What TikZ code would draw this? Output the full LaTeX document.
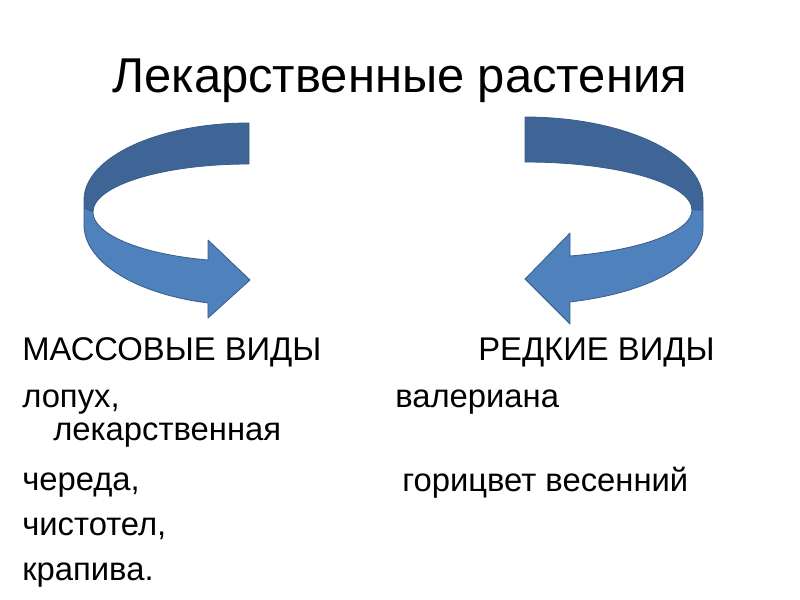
\documentclass[tikz,border=0pt]{standalone}
\usepackage{fontspec}
\setmainfont{Liberation Sans}
\usetikzlibrary{positioning}
\definecolor{RibbonDark}{RGB}{63,101,151}
\definecolor{RibbonLight}{RGB}{79,129,189}
\definecolor{RibbonEdge}{RGB}{56,93,138}

\begin{document}
\begin{tikzpicture}[x=0.75pt, y=-0.75pt,
    every node/.style={inner sep=0pt, anchor=base west},
    title/.style={font=\fontsize{36.7}{44}\selectfont},
    item/.style={font=\fontsize{24.6}{29}\selectfont},
    ribbon/.style={draw=RibbonEdge, line width=0.6pt, line join=round}]
  \useasboundingbox (0,0) rectangle (800,600);

  \node[title] (title) at (112,92) {Лекарственные растения};

  \filldraw[ribbon, fill=RibbonDark] (249,123) arc[start angle=-90, end angle=-180, x radius=165, y radius=77]
    -- (84,208) -- (93,212) arc[start angle=180, end angle=270, x radius=156, y radius=48] -- cycle;
  \filldraw[ribbon, fill=RibbonLight] (84,208) -- (84,225)
    arc[start angle=180, end angle=104.4, x radius=165, y radius=80.5]
    -- (208,318) -- (250,280) -- (208,240) -- (208,260)
    arc[start angle=105.2, end angle=180, x radius=156, y radius=50] -- cycle;

  \filldraw[ribbon, fill=RibbonDark] (525,117) arc[start angle=-90, end angle=0, x radius=178, y radius=83]
    -- (703,210) -- (692,210) arc[start angle=0, end angle=-90, x radius=167, y radius=48] -- cycle;
  \filldraw[ribbon, fill=RibbonLight] (703,210) -- (703,228)
    arc[start angle=0, end angle=75.4, x radius=178, y radius=76.4]
    -- (570,324) -- (525,279) -- (570,233) -- (570,256)
    arc[start angle=74.4, end angle=0, x radius=167, y radius=48] -- cycle;

  \node[item] (mass) at (22,360) {МАССОВЫЕ ВИДЫ};
  \node[item] (rare) at (478,360) {РЕДКИЕ ВИДЫ};
  \node[item] (lopuh) at (22,407) {лопух,};
  \node[item] (lopuh2) at (53,440) {лекарственная};
  \node[item] (valer) at (395,407) {валериана};
  \node[item] (chered) at (22,490) {череда,};
  \node[item] (goric) at (402,491) {горицвет весенний};
  \node[item] (chist) at (22,535) {чистотел,};
  \node[item] (krap) at (22,580) {крапива.};
\end{tikzpicture}
\end{document}
